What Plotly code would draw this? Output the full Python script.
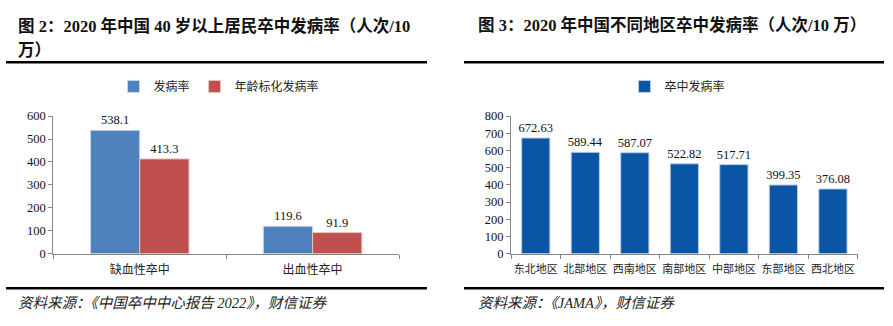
import plotly.graph_objects as go

W, H = 893, 326

# ---- data ----
left_categories = ["缺血性卒中", "出血性卒中"]
left_series_names = ["发病率", "年龄标化发病率"]
left_rate = [538.1, 119.6]
left_std_rate = [413.3, 91.9]

right_categories = ["东北地区", "北部地区", "西南地区", "南部地区", "中部地区", "东部地区", "西北地区"]
right_series_name = "卒中发病率"
right_rate = [672.63, 589.44, 587.07, 522.82, 517.71, 399.35, 376.08]

left_title_lines = ["图 2：2020 年中国 40 岁以上居民卒中发病率（人次/10", "万）"]
right_title = "图 3：2020 年中国不同地区卒中发病率（人次/10 万）"
left_source = "资料来源：《中国卒中中心报告 2022》，财信证券"
right_source = "资料来源：《JAMA》，财信证券"

FONT = "Liberation Serif, Noto Sans CJK SC, serif"
CJK = "Noto Sans CJK SC, sans-serif"
AXIS = "#868686"

def px(x):
    return x / W

def py(y):
    return 1 - y / H

fig = go.Figure()

fig.add_trace(go.Bar(
    x=left_categories, y=left_rate, name=left_series_names[0],
    marker=dict(color="#4F81BD", line=dict(color="#C9D7EA", width=1)),
    text=[f"{v:.1f}" for v in left_rate], textposition="outside",
    textfont=dict(family=FONT, size=12.5, color="#111"),
    constraintext="none", cliponaxis=False,
    xaxis="x", yaxis="y", legend="legend",
))
fig.add_trace(go.Bar(
    x=left_categories, y=left_std_rate, name=left_series_names[1],
    marker=dict(color="#C0504D", line=dict(color="#E6C3C2", width=1)),
    text=[f"{v:.1f}" for v in left_std_rate], textposition="outside",
    textfont=dict(family=FONT, size=12.5, color="#111"),
    constraintext="none", cliponaxis=False,
    xaxis="x", yaxis="y", legend="legend",
))
fig.add_trace(go.Bar(
    x=right_categories, y=right_rate, name=right_series_name,
    marker=dict(color="#0B55A6", line=dict(color="#B9CDE5", width=1)),
    text=[f"{v:.2f}" for v in right_rate], textposition="outside",
    textfont=dict(family=FONT, size=12.5, color="#111"),
    constraintext="none", cliponaxis=False,
    xaxis="x2", yaxis="y2", legend="legend2",
))

ydom = [py(257.7), py(114)]

xcommon = dict(showline=True, linecolor=AXIS, linewidth=1, ticks="outside",
               tickson="boundaries", ticklen=4, tickcolor=AXIS, showgrid=False,
               tickangle=0, ticklabelstandoff=5, fixedrange=True)
ycommon = dict(showline=True, linecolor=AXIS, linewidth=1, ticks="outside",
               ticklen=4, tickcolor=AXIS, showgrid=False, zeroline=False,
               tickfont=dict(family=FONT, size=12.5, color="#111"), fixedrange=True)

fig.update_layout(
    width=W, height=H,
    margin=dict(l=0, r=0, t=0, b=0),
    paper_bgcolor="white", plot_bgcolor="white",
    barmode="group", bargap=0.43, bargroupgap=0,
    xaxis=dict(domain=[px(53.3), px(399)], anchor="y",
               tickfont=dict(family=CJK, size=12, color="#222"), **xcommon),
    yaxis=dict(domain=ydom, anchor="x", range=[0, 600], dtick=100, **ycommon),
    xaxis2=dict(domain=[px(511), px(857.7)], anchor="y2",
                tickfont=dict(family=CJK, size=11, color="#222"), **xcommon),
    yaxis2=dict(domain=ydom, anchor="x2", range=[0, 800], dtick=100, **ycommon),
    legend=dict(orientation="h", x=px(219), y=py(83), xanchor="center", yanchor="middle",
                font=dict(family=CJK, size=12, color="#222"), itemwidth=30,
                bgcolor="rgba(0,0,0,0)"),
    legend2=dict(orientation="h", x=px(677.5), y=py(83), xanchor="center", yanchor="middle",
                 font=dict(family=CJK, size=12, color="#222"), itemwidth=30,
                 bgcolor="rgba(0,0,0,0)"),
    showlegend=True,
)

# titles
for line, yc in zip(left_title_lines, [20, 45]):
    fig.add_annotation(text=line, x=px(16), y=py(yc), xref="paper", yref="paper",
                       xanchor="left", yanchor="middle", showarrow=False,
                       font=dict(family=FONT, size=16.5, color="#111", weight="bold"))
fig.add_annotation(text=right_title, x=px(476), y=py(19), xref="paper", yref="paper",
                   xanchor="left", yanchor="middle", showarrow=False,
                   font=dict(family=FONT, size=16.5, color="#111", weight="bold"))

# sources
fig.add_annotation(text=left_source, x=px(16), y=py(309), xref="paper", yref="paper",
                   xanchor="left", yanchor="middle", showarrow=False,
                   font=dict(family=FONT, size=14.5, color="#222", style="italic"))
fig.add_annotation(text=right_source, x=px(476), y=py(309), xref="paper", yref="paper",
                   xanchor="left", yanchor="middle", showarrow=False,
                   font=dict(family=FONT, size=14.5, color="#222", style="italic"))

# rules
for (x0, x1) in [(6, 427), (464, 884)]:
    for yy in (57.7, 294):
        fig.add_shape(type="line", xref="paper", yref="paper",
                      x0=px(x0), x1=px(x1), y0=py(yy), y1=py(yy),
                      line=dict(color="black", width=2.5))

fig.write_html(
    "out.html",
    post_script="document.body.style.margin='0';document.body.style.overflow='hidden';",
)
